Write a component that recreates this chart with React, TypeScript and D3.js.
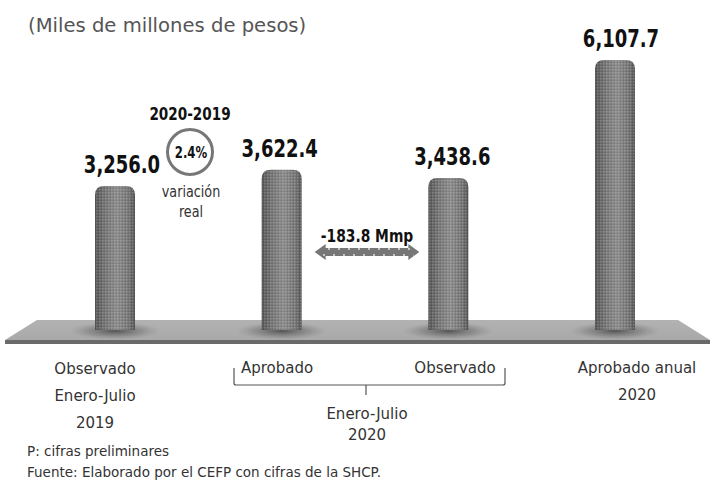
import React from "react";
import * as d3 from "d3";

const categories = ["obs2019", "aprob2020", "obs2020", "anual2020"];
const values = [3256.0, 3622.4, 3438.6, 6107.7];
const valueLabels = ["3,256.0", "3,622.4", "3,438.6", "6,107.7"];
const catLabels = [["Observado", "Enero-Julio", "2019"], ["Aprobado"], ["Observado"], ["Aprobado anual", "2020"]];
const groupLabel = ["Enero-Julio", "2020"];
const diffLabel = "-183.8 Mmp";
const changeTitle = "2020-2019";
const changeLabel = "2.4%";
const changeNote = ["variación", "real"];
const notes = ["P: cifras preliminares", "Fuente: Elaborado por el CEFP con cifras de la SHCP."];

const W = 710, H = 480;
const regular = "'DejaVu Sans', sans-serif";

function Narrow({ x, y, size, bold, fill, sx = 0.8, children }: any) {
  return (
    <g transform={`translate(${x},${y}) scale(${sx},1)`}>
      <text x={0} y={0} textAnchor="middle" fontFamily={regular} fontWeight={bold ? "bold" : "normal"} fontSize={size} fill={fill}>{children}</text>
    </g>
  );
}

export default function App() {
  const x = d3.scalePoint<string>().domain(categories).range([115, 615]);
  const y = d3.scaleLinear().domain([0, 6107.7]).range([330, 60]);
  const bw = 40;
  const x1 = x(categories[1])!, x2 = x(categories[2])!;
  const arrowY = 252;
  const aL = x1 + bw / 2 + 13, aR = x2 - bw / 2 - 9;
  const labelDx = [7, -2, 4, 6];
  const cyl = (cx: number, top: number, base: number) => {
    const l = cx - bw / 2, r = cx + bw / 2, rr = 9;
    return `M${l},${base} L${l},${top + rr} Q${l},${top} ${l + rr},${top} L${r - rr},${top} Q${r},${top} ${r},${top + rr} L${r},${base} Z`;
  };
  return (
    <svg width={W} height={H} style={{ position: "absolute", left: 0, top: 0, background: "#fff" }}>
      <defs>
        <linearGradient id="cyl" x1="0" x2="1" y1="0" y2="0">
          <stop offset="0" stopColor="#555" />
          <stop offset="0.25" stopColor="#767676" />
          <stop offset="0.55" stopColor="#8e8e8e" />
          <stop offset="0.85" stopColor="#767676" />
          <stop offset="1" stopColor="#555" />
        </linearGradient>
        <pattern id="dots" width="3" height="3" patternUnits="userSpaceOnUse">
          <rect x="0" y="0" width="1.5" height="1.5" fill="#ddd" opacity="0.25" />
          <rect x="1.5" y="1.5" width="1.5" height="1.5" fill="#222" opacity="0.12" />
        </pattern>
        <linearGradient id="floor" x1="0" x2="0" y1="0" y2="1">
          <stop offset="0" stopColor="#b2b2b2" />
          <stop offset="1" stopColor="#a9a9a9" />
        </linearGradient>
        <radialGradient id="shadow">
          <stop offset="0" stopColor="#444" stopOpacity="0.85" />
          <stop offset="0.6" stopColor="#666" stopOpacity="0.4" />
          <stop offset="1" stopColor="#888" stopOpacity="0" />
        </radialGradient>
        <pattern id="adots" width="10" height="12" patternUnits="userSpaceOnUse">
          <circle cx="4" cy="3" r="0.9" fill="#eee" />
          <circle cx="9" cy="9" r="0.9" fill="#eee" />
        </pattern>
      </defs>
      <text x={28} y={32} fontFamily={regular} fontSize={19.6} fill="#555">(Miles de millones de pesos)</text>

      {/* floor */}
      <polygon points="37,320 678,320 710,340 5,340" fill="url(#floor)" />
      <rect x={5} y={340} width={705} height={4} fill="#6a6a6a" />

      {categories.map((c, i) => {
        const cx = x(c)!;
        const top = y(values[i]);
        const base = y(0);
        return (
          <g key={c}>
            <ellipse cx={cx} cy={base + 1} rx={bw * 1.15} ry={9} fill="url(#shadow)" />
            <path d={cyl(cx, top, base)} fill="url(#cyl)" />
            <path d={cyl(cx, top, base)} fill="url(#dots)" />
            <Narrow x={cx + labelDx[i]} y={top - 13} size={24} bold fill="#111" sx={0.75}>{valueLabels[i]}</Narrow>
          </g>
        );
      })}

      {/* variation circle */}
      <Narrow x={190} y={120} size={17} bold fill="#111">{changeTitle}</Narrow>
      <circle cx={190} cy={152} r={22.5} fill="none" stroke="#777" strokeWidth={3} />
      <Narrow x={191} y={158} size={15} bold fill="#111" sx={0.78}>{changeLabel}</Narrow>
      <Narrow x={191} y={197} size={16} fill="#333">{changeNote[0]}</Narrow>
      <Narrow x={191} y={217} size={16} fill="#333">{changeNote[1]}</Narrow>

      {/* arrow */}
      <g>
        <path d={`M${aL},${arrowY} L${aL + 11},${arrowY - 8} L${aL + 11},${arrowY - 4} L${aR - 11},${arrowY - 4} L${aR - 11},${arrowY - 8} L${aR},${arrowY} L${aR - 11},${arrowY + 8} L${aR - 11},${arrowY + 4} L${aL + 11},${arrowY + 4} L${aL + 11},${arrowY + 8} Z`} fill="#777" />
        <rect x={aL + 6} y={arrowY - 4} width={aR - aL - 12} height={8} fill="url(#adots)" />
        <Narrow x={(aL + aR) / 2} y={arrowY - 10} size={18} bold fill="#111" sx={0.77}>{diffLabel}</Narrow>
      </g>

      {/* category labels */}
      <g fontFamily={regular} fontSize={15} fill="#333" textAnchor="middle">
        {catLabels[0].map((t, j) => <text key={t} x={95} y={374 + j * 27}>{t}</text>)}
        <text x={277} y={373}>{catLabels[1][0]}</text>
        <text x={455} y={373}>{catLabels[2][0]}</text>
        {catLabels[3].map((t, j) => <text key={t} x={637} y={373 + j * 27}>{t}</text>)}
        <text x={367} y={419}>{groupLabel[0]}</text>
        <text x={367} y={440}>{groupLabel[1]}</text>
      </g>
      <path d="M234,368 L234,383 Q234,385 236,385 L366,385 L366,395 M366,385 L503,385 Q505,385 505,383 L505,368" fill="none" stroke="#555" strokeWidth={1.2} />

      <g fontFamily={regular} fontSize={13.5} fill="#333">
        <text x={27} y={456}>{notes[0]}</text>
        <text x={27} y={477}>{notes[1]}</text>
      </g>
    </svg>
  );
}
